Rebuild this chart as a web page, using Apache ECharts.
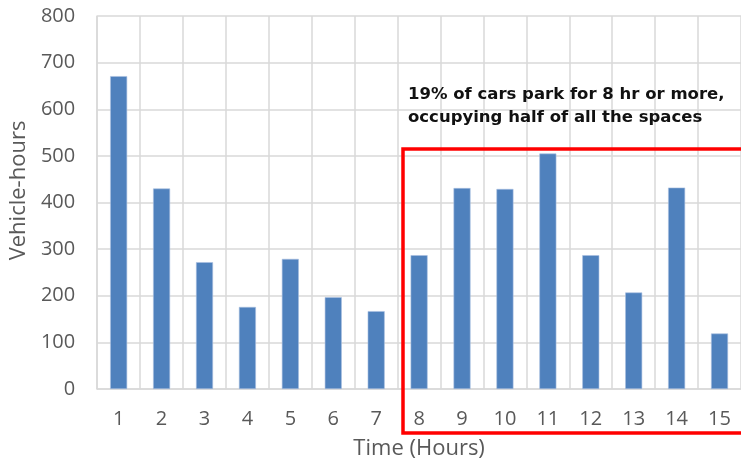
<!DOCTYPE html>
<html>
<head>
<meta charset="utf-8">
<script src="https://cdn.jsdelivr.net/npm/echarts@6/dist/echarts.min.js"></script>
<style>
  html, body { margin: 0; padding: 0; background: #fff; }
  #chart { width: 741px; height: 465px; }
</style>
</head>
<body>
<div id="chart"></div>
<script>
// Parking duration (hours) and the vehicle-hours each bucket accounts for
const hours = ['1', '2', '3', '4', '5', '6', '7', '8', '9', '10', '11', '12', '13', '14', '15'];
const vehicleHours = [671, 430, 272, 176, 279, 197, 167, 287, 431, 429, 505, 287, 207, 432, 119];
const yTicks = { min: 0, max: 800, interval: 100 };
const noteLines = ['19% of cars park for 8 hr or more,', 'occupying half of all the spaces'];

const chart = echarts.init(document.getElementById('chart'), null, { renderer: 'canvas' });

const labelFont = '"Open Sans", "DejaVu Sans", sans-serif';
const gridColor = '#d9d9d9';
const textColor = '#595959';

chart.setOption({
  animation: false,
  grid: { left: 95, top: 16, width: 659, bottom: 76, containLabel: false },
  xAxis: {
    type: 'category',
    data: hours,
    boundaryGap: true,
    name: 'Time (Hours)',
    nameLocation: 'middle',
    nameGap: 49,
    nameTextStyle: { fontFamily: labelFont, fontSize: 22, color: textColor },
    axisLine: { show: true, lineStyle: { color: gridColor, width: 1.5 } },
    axisTick: { show: false },
    axisLabel: { fontFamily: labelFont, fontSize: 20, color: textColor, margin: 20 },
    splitLine: { show: true, lineStyle: { color: gridColor, width: 1.5 } }
  },
  yAxis: {
    type: 'value',
    min: yTicks.min,
    max: yTicks.max,
    interval: yTicks.interval,
    name: 'Vehicle-hours',
    nameLocation: 'middle',
    nameGap: 60,
    nameTextStyle: { fontFamily: labelFont, fontSize: 22, color: textColor, padding: [0, 0, 0, 24] },
    axisLine: { show: true, lineStyle: { color: gridColor, width: 1.5 } },
    axisTick: { show: false },
    axisLabel: { fontFamily: labelFont, fontSize: 20, color: textColor, margin: 22 },
    splitLine: { show: true, lineStyle: { color: gridColor, width: 1.5 } }
  },
  series: [{
    type: 'bar',
    data: vehicleHours,
    barWidth: 17,
    itemStyle: { color: '#4f81bd', borderColor: '#a9c0e0', borderWidth: 0.6 }
  }],
  graphic: [
    {
      type: 'rect',
      z: 100,
      shape: { x: 403, y: 149, width: 350, height: 284 },
      style: { fill: 'none', stroke: '#ff0000', lineWidth: 3.5 }
    },
    {
      type: 'text',
      z: 100,
      left: 408,
      top: 83,
      style: {
        text: noteLines.join('\n'),
        fontFamily: '"DejaVu Sans", sans-serif',
        fontWeight: 'bold',
        fontSize: 16.5,
        lineHeight: 23,
        fill: '#111111'
      }
    }
  ]
});
</script>
</body>
</html>
